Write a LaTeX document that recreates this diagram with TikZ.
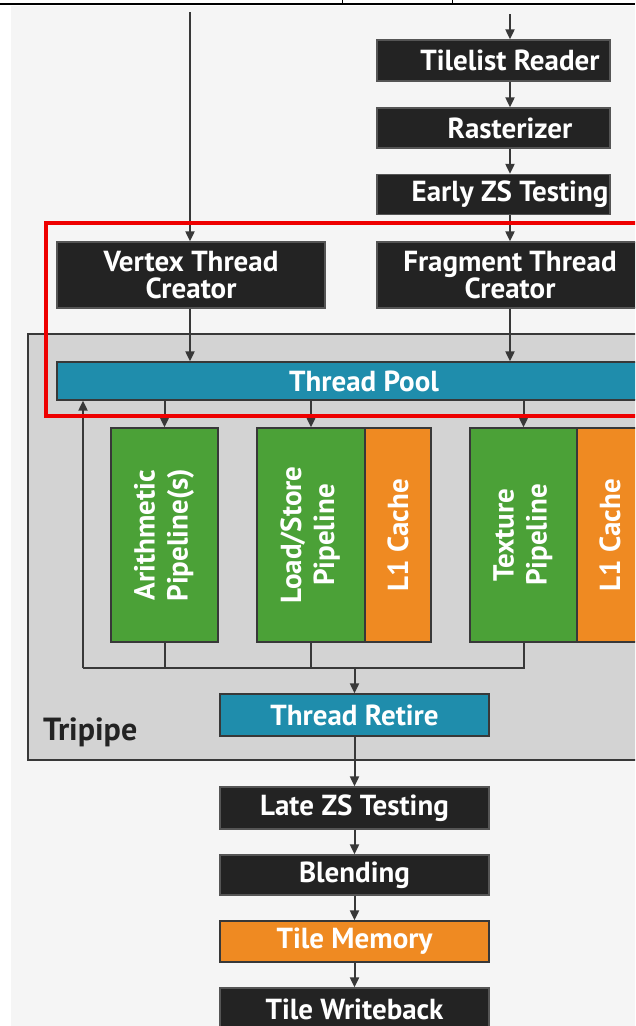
\documentclass[tikz,border=0pt]{standalone}
\usepackage{fontspec}
\usepackage{graphicx}
\setmainfont{PT Sans}
\usetikzlibrary{arrows.meta,calc}
\definecolor{bgcol}{HTML}{F5F5F5}
\definecolor{boxblack}{HTML}{232323}
\definecolor{boxborder}{HTML}{555555}
\definecolor{poolblue}{HTML}{1F8DAC}
\definecolor{pipegreen}{HTML}{4BA137}
\definecolor{cacheorange}{HTML}{EF8A22}
\definecolor{tripgray}{HTML}{D3D3D3}
\definecolor{linegray}{HTML}{383838}
\definecolor{hired}{HTML}{EE0000}
\newcommand\dlabfont{\bfseries\fontsize{29}{27}\selectfont}
\begin{document}
\begin{tikzpicture}[x=1pt,y=-1pt,
  conn/.style={draw=linegray, line width=2pt},
  arr/.style={conn, -{Triangle[length=10pt,width=9pt]}},
  box/.style={draw=boxborder, line width=1.3pt, text=white, font=\dlabfont, inner sep=0pt, align=center},
  blk/.style={box, fill=boxblack},
  bluebox/.style={box, fill=poolblue, draw=linegray},
  greenbox/.style={box, fill=pipegreen, draw=linegray, font=\bfseries\fontsize{29}{33}\selectfont},
  orangebox/.style={box, fill=cacheorange, draw=linegray},
  wide/.style={minimum width=269pt, minimum height=42pt}
]
\useasboundingbox (0,0) rectangle (635,1026);
\clip (0,0) rectangle (635,1026);
% page background
\fill[white] (0,0) rectangle (635,1026);
\fill[bgcol] (11,6) rectangle (635,1026);
\draw[black, line width=2.4pt] (0,4) -- (635,4);
\draw[black, line width=0.8pt] (342,0) -- (342,3);
\draw[black, line width=0.8pt] (452,0) -- (452,3);

% Tripipe container
\node[draw=linegray, line width=1.6pt, fill=tripgray, anchor=north west,
      minimum width=640pt, minimum height=426pt, inner sep=0pt] (tripipe) at (27,333) {};
\node[anchor=base west, font=\bfseries\fontsize{32}{34}\selectfont, text=boxblack, inner sep=0pt] (tlabel) at (43,740) {Tripipe};

% top stages
\node[blk, minimum width=233pt, minimum height=41pt] (tilelist) at (493.5,60.5) {\hspace*{33pt}Tilelist Reader};
\node[blk, minimum width=233pt, minimum height=40pt] (raster) at (493.5,128) {\hspace*{33pt}Rasterizer};
\node[blk, minimum width=233pt, minimum height=40pt] (ezs) at (493.5,194.5) {\hspace*{33pt}Early ZS Testing};

\node[blk, minimum width=268pt, minimum height=66pt] (vtc) at (191,275) {Vertex Thread\\Creator};
\node[blk, minimum width=266pt, minimum height=66pt] (ftc) at (510,275) {Fragment Thread\\Creator};

% thread pool
\node[bluebox, minimum width=614pt, minimum height=38pt] (pool) at (364,381) {Thread Pool};

% pipelines
\node[greenbox, minimum width=107pt, minimum height=214pt] (arith) at (164.5,535) {\rotatebox{90}{\begin{tabular}{@{}c@{}}Arithmetic\\Pipeline(s)\end{tabular}}};
\node[greenbox, minimum width=108pt, minimum height=214pt] (ls) at (311,535) {\rotatebox{90}{\begin{tabular}{@{}c@{}}Load/Store\\Pipeline\end{tabular}}};
\node[orangebox, minimum width=66pt, minimum height=214pt] (lonea) at (398,535) {\rotatebox{90}{L1 Cache}};
\node[greenbox, minimum width=107pt, minimum height=214pt] (tex) at (523.5,535) {\rotatebox{90}{\begin{tabular}{@{}c@{}}Texture\\Pipeline\end{tabular}}};
\node[orangebox, minimum width=66pt, minimum height=214pt] (loneb) at (610,535) {\rotatebox{90}{L1 Cache}};

% lower stages
\node[bluebox, wide] (retire) at (354.5,715) {Thread Retire};
\node[blk, wide] (lzs) at (354.5,808) {Late ZS Testing};
\node[blk, wide, minimum height=40pt] (blend) at (354.5,875) {Blending};
\node[orangebox, wide, minimum height=41pt] (tilemem) at (354.5,941.5) {Tile Memory};
\node[blk, wide] (twb) at (354.5,1009) {Tile Writeback};

% connectors top
\coordinate (vtop) at (190,12);
\coordinate (ftop) at (510,14);
\draw[arr] (vtop) -- (vtop |- vtc.north);
\draw[arr] (ftop) -- (ftop |- tilelist.north);
\draw[arr] (tilelist.south -| ftop) -- (raster.north -| ftop);
\draw[arr] (raster.south -| ftop) -- (ezs.north -| ftop);
\draw[arr] (ezs.south -| ftop) -- (ftc.north);
\draw[arr] (vtc.south -| vtop) -- (pool.north -| vtop);
\draw[arr] (ftc.south) -- (ftc.south |- pool.north);

% pool to pipelines
\draw[arr] (arith.north |- pool.south) -- (arith.north);
\draw[arr] (ls.north |- pool.south) -- (ls.north);
\draw[arr] (tex.north |- pool.south) -- (tex.north);

% bus
\coordinate (busL) at (83,668);
\draw[conn, line join=miter] (busL) -- (tex.south |- busL) -- (tex.south);
\draw[conn] (arith.south) -- (arith.south |- busL);
\draw[conn] (ls.south) -- (ls.south |- busL);
\draw[arr] (busL) -- (busL |- pool.south);
\draw[arr] (retire.north |- busL) -- (retire.north);

% lower chain
\draw[arr] (retire.south) -- (lzs.north);
\draw[arr] (lzs.south) -- (blend.north);
\draw[arr] (blend.south) -- (tilemem.north);
\draw[arr] (tilemem.south) -- (twb.north);

% highlight
\draw[hired, line width=3.6pt] (46,223) rectangle (680,416);
\end{tikzpicture}
\end{document}
